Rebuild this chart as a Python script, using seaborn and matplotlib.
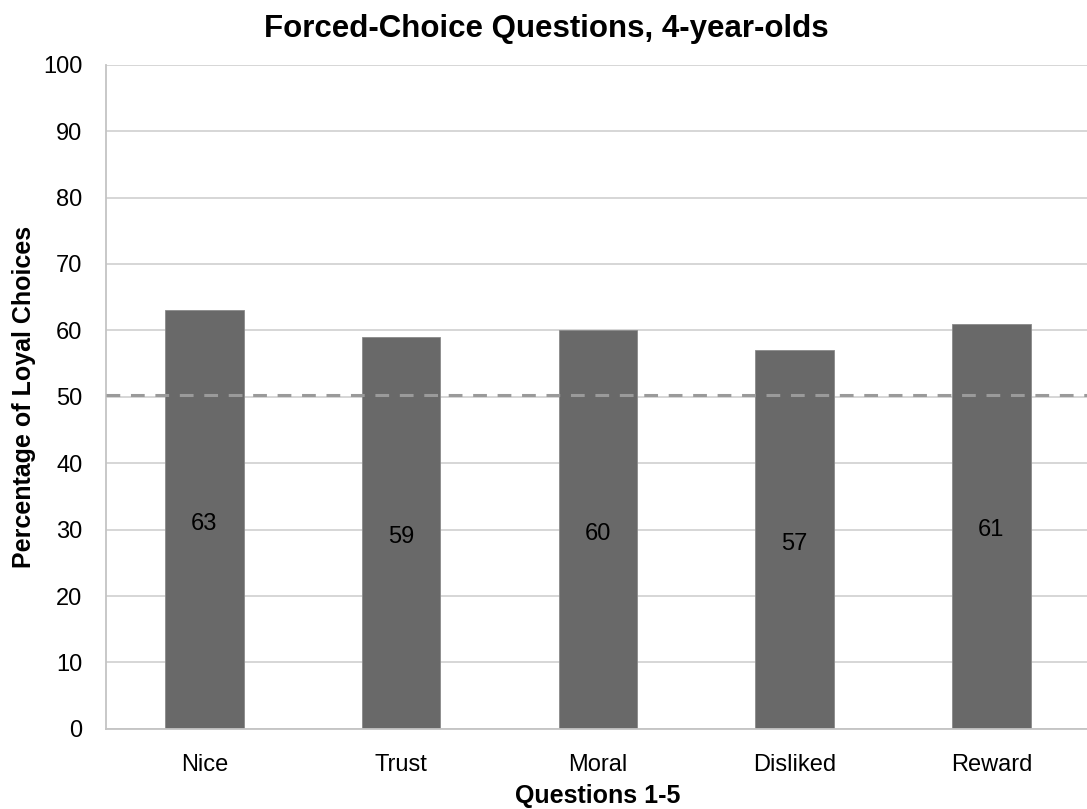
import matplotlib
matplotlib.use("Agg")
import matplotlib.pyplot as plt
import seaborn as sns
import pandas as pd

questions = ["Nice", "Trust", "Moral", "Disliked", "Reward"]
loyal_pct = [63, 59, 60, 57, 61]
chance_level = 50.3

df = pd.DataFrame({"Question": questions, "Percentage": loyal_pct})

sns.set_style("white")
plt.rcParams['font.family'] = ['Liberation Sans', 'DejaVu Sans']
plt.rcParams['text.color'] = 'black'
plt.rcParams['axes.labelcolor'] = 'black'
plt.rcParams['xtick.color'] = 'black'
plt.rcParams['ytick.color'] = 'black'

fig = plt.figure(figsize=(10.87, 8.09), dpi=100)
ax = fig.add_axes([0.0975, 0.099, 0.905, 0.821])

sns.barplot(data=df, x="Question", y="Percentage", color="#696969",
            width=0.4, saturation=1, edgecolor="#8a8a8a", linewidth=0.6,
            ax=ax, zorder=2)

ax.set_ylim(0, 100)
ax.set_xlim(-0.5, 4.5)
ax.set_yticks(range(0, 101, 10))
ax.yaxis.grid(True, color="#d0d0d0", linewidth=1.2, zorder=0)
ax.set_axisbelow(True)

ax.axhline(chance_level, color="#9a9a9a", linewidth=2.2, dashes=(4.5, 3.5), zorder=3)

for i, v in enumerate(loyal_pct):
    ax.text(i, v / 2 - 0.6, str(v), ha="center", va="center", fontsize=17, color="black", zorder=4)

# ticks between categories on the x axis
ax.set_xticks([i - 0.5 for i in range(len(questions) + 1)], minor=False)
ax.set_xticklabels([])
ax.set_xticks(range(len(questions)), minor=True)
ax.set_xticklabels(questions, minor=True, fontsize=17)
ax.tick_params(axis="x", which="major", length=8, width=1.2, color="#c4c4c4", direction="out")
ax.tick_params(axis="x", which="minor", length=0, pad=18)
ax.tick_params(axis="y", length=7, width=1.2, color="#c4c4c4", direction="out", labelsize=17, pad=10)

for side in ["top", "right"]:
    ax.spines[side].set_visible(False)
for side in ["left", "bottom"]:
    ax.spines[side].set_color("#c4c4c4")
    ax.spines[side].set_linewidth(1.3)

ax.set_xlabel("Questions 1-5", fontsize=18, fontweight="bold", labelpad=6)
ax.set_ylabel("Percentage of Loyal Choices", fontsize=18, fontweight="bold", labelpad=5)
fig.suptitle("Forced-Choice Questions, 4-year-olds", fontsize=22.5, fontweight="bold", x=0.503, y=0.983)

fig.savefig("out.png", dpi=100)
